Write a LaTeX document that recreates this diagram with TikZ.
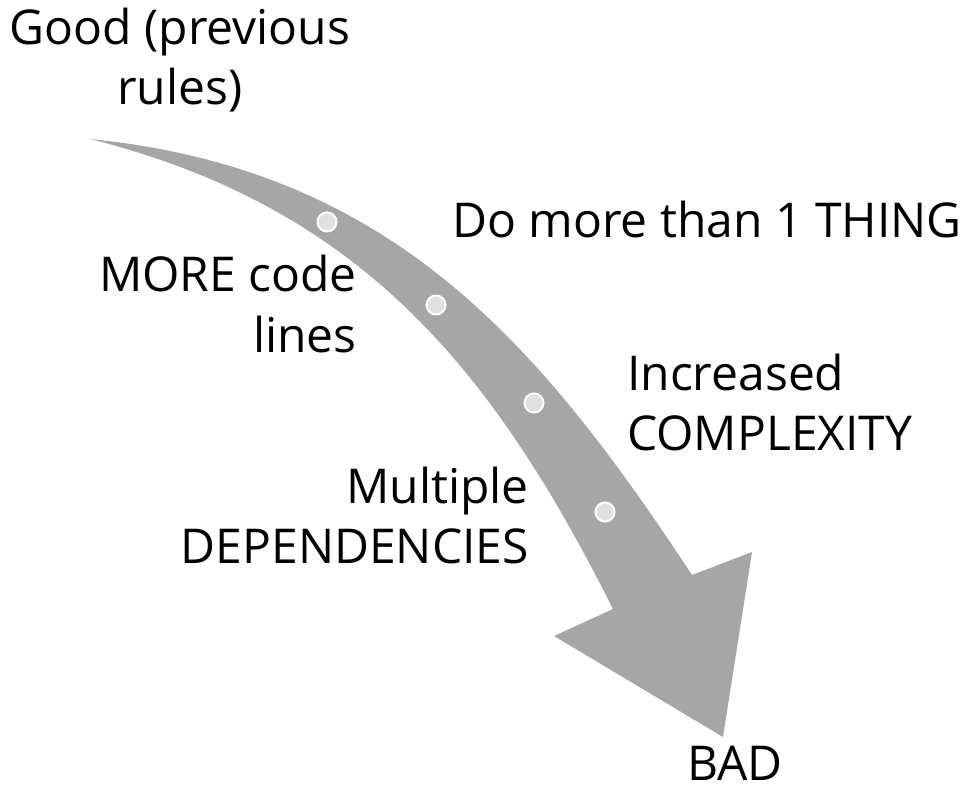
\documentclass[tikz,border=0pt]{standalone}
\usepackage{fontspec}
\setmainfont{Open Sans}
\definecolor{arrowgray}{RGB}{166,166,166}
\definecolor{dotgray}{RGB}{224,224,224}

\begin{document}
\begin{tikzpicture}[x=1pt,y=-1pt,
    steptext/.style={inner sep=0pt,font=\fontsize{48}{60}\selectfont},
    stepdot/.style={circle,fill=dotgray,draw=white,line width=2pt,minimum size=19pt,inner sep=0pt}]
    \useasboundingbox (0,0) rectangle (969,786);
    % fletxa corbada
    \fill[arrowgray] (90,139) .. controls (390,169) and (538,341) .. (692,575)
        -- (752,552) -- (723,737) -- (554,636) -- (613,609)
        .. controls (492,368) and (360,207) .. (90,139) -- cycle;
    % punts
    \node[stepdot] (dotA) at (327,222) {};
    \node[stepdot] (dotB) at (436,305) {};
    \node[stepdot] (dotC) at (534,403) {};
    \node[stepdot] (dotD) at (605,512) {};
    % textos (base = darrera linia)
    \node[steptext,align=center,anchor=base] (good) at (180,105) {Good (previous\\rules)};
    \node[steptext,anchor=base west] (thing) at (452,238) {Do more than 1 THING};
    \node[steptext,align=right,anchor=base east] (lines) at (357,352) {MORE code\\lines};
    \node[steptext,align=left,anchor=base west] (complex) at (627,450) {Increased\\COMPLEXITY};
    \node[steptext,align=right,anchor=base east] (depend) at (529,563) {Multiple\\DEPENDENCIES};
    \node[steptext,anchor=base] (bad) at (735,780) {BAD};
\end{tikzpicture}
\end{document}
